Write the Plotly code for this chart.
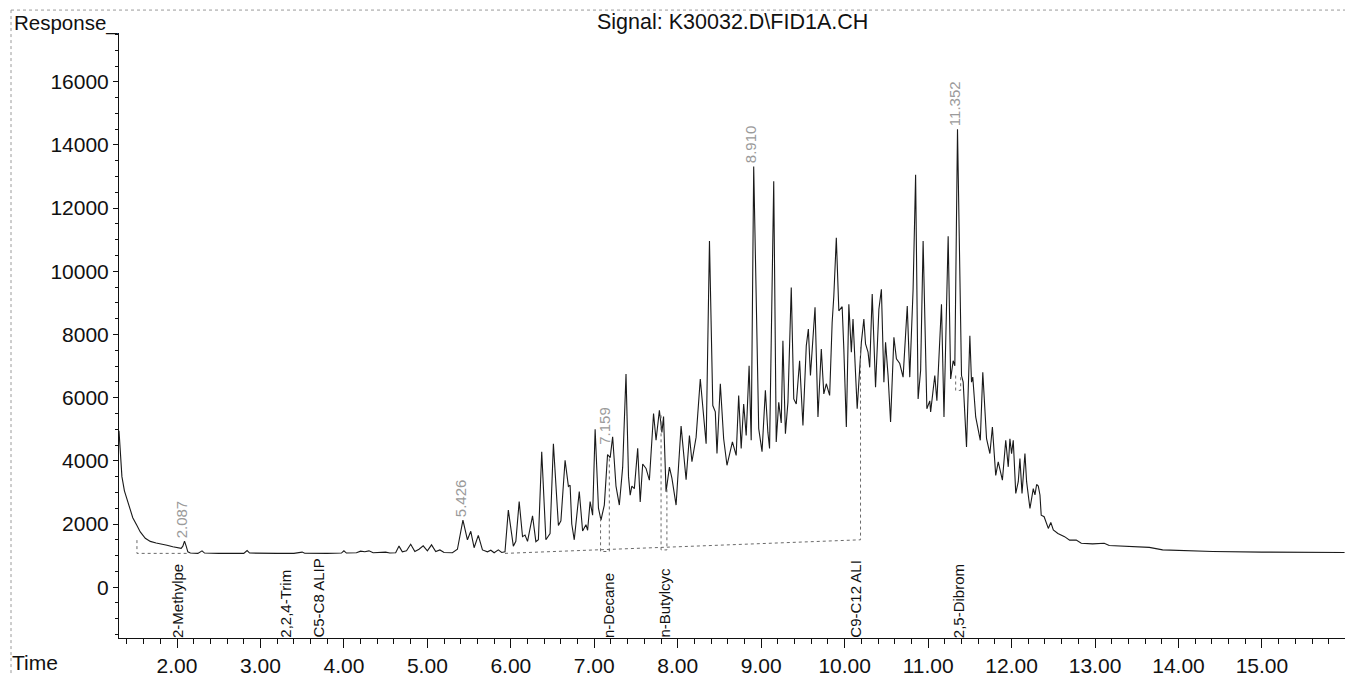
import plotly.graph_objects as go

# ---- signal trace (time in min, response) ----
time_min = [1.305, 1.32, 1.34, 1.37, 1.40, 1.44, 1.47, 1.52, 1.56, 1.62, 1.68, 1.75, 1.80, 1.88, 1.95, 2.00,
            2.03, 2.05, 2.07, 2.09, 2.11, 2.13, 2.16, 2.25, 2.30, 2.33, 2.50, 2.80, 2.84, 2.87, 3.20, 3.40,
            3.50, 3.53, 3.80, 3.97, 4.00, 4.03, 4.15, 4.20, 4.25, 4.30, 4.35, 4.45, 4.50, 4.55, 4.62, 4.66,
            4.70, 4.75, 4.80, 4.85, 4.90, 4.95, 5.00, 5.05, 5.10, 5.15, 5.20, 5.30, 5.36, 5.426, 5.48, 5.52,
            5.56, 5.61, 5.66, 5.72, 5.76, 5.80, 5.85, 5.89, 5.93, 5.97, 6.03, 6.06, 6.10, 6.14, 6.17, 6.20,
            6.26, 6.30, 6.33, 6.37, 6.42, 6.47, 6.51, 6.57, 6.60, 6.65, 6.69, 6.71, 6.73, 6.76, 6.82, 6.86,
            6.90, 6.92, 6.95, 6.98, 7.01, 7.05, 7.08, 7.12, 7.159, 7.19, 7.22, 7.26, 7.30, 7.34, 7.38, 7.41,
            7.43, 7.45, 7.48, 7.52, 7.55, 7.58, 7.62, 7.66, 7.71, 7.74, 7.78, 7.81, 7.83, 7.86, 7.90, 7.93,
            7.98, 8.04, 8.10, 8.14, 8.17, 8.22, 8.27, 8.34, 8.38, 8.42, 8.45, 8.47, 8.51, 8.55, 8.59, 8.655,
            8.70, 8.73, 8.76, 8.79, 8.82, 8.855, 8.88, 8.91, 8.97, 9.01, 9.05, 9.08, 9.10, 9.15, 9.18, 9.21,
            9.24, 9.26, 9.29, 9.32, 9.36, 9.39, 9.42, 9.46, 9.50, 9.54, 9.565, 9.59, 9.645, 9.68, 9.72, 9.75,
            9.78, 9.82, 9.85, 9.87, 9.90, 9.93, 9.97, 9.99, 10.02, 10.05, 10.08, 10.10, 10.15, 10.20, 10.23,
            10.25, 10.28, 10.30, 10.33, 10.37, 10.41, 10.44, 10.47, 10.49, 10.52, 10.55, 10.59, 10.62, 10.66,
            10.70, 10.75, 10.78, 10.82, 10.85, 10.88, 10.91, 10.94, 10.985, 11.02, 11.03, 11.08, 11.105,
            11.16, 11.19, 11.24, 11.27, 11.30, 11.32, 11.352, 11.40, 11.42, 11.46, 11.50, 11.52, 11.535,
            11.57, 11.625, 11.655, 11.69, 11.70, 11.74, 11.77, 11.81, 11.84, 11.89, 11.93, 11.96, 11.98,
            12.00, 12.02, 12.05, 12.08, 12.10, 12.125, 12.16, 12.18, 12.22, 12.26, 12.28, 12.30, 12.32,
            12.34, 12.355, 12.39, 12.44, 12.47, 12.50, 12.555, 12.635, 12.695, 12.775, 12.835, 12.97,
            13.11, 13.17, 13.45, 13.65, 13.81, 14.41, 15.00, 15.99]
response = [4950, 4200, 3500, 3050, 2800, 2400, 2200, 1950, 1750, 1550, 1450, 1400, 1380, 1330, 1280, 1260,
            1250, 1230, 1300, 1460, 1300, 1120, 1080, 1070, 1150, 1080, 1070, 1070, 1160, 1080, 1070, 1070,
            1110, 1075, 1070, 1080, 1150, 1080, 1090, 1140, 1120, 1150, 1090, 1090, 1110, 1080, 1090, 1300,
            1120, 1150, 1360, 1130, 1200, 1310, 1150, 1340, 1130, 1180, 1100, 1090, 1200, 2120, 1500, 1770,
            1250, 1640, 1180, 1120, 1170, 1090, 1180, 1100, 1120, 2440, 1300, 1450, 2710, 1600, 1650, 1450,
            2260, 1440, 1500, 4290, 1500, 1700, 4540, 1950, 2100, 4020, 3190, 3230, 2000, 1500, 3030, 1780,
            1980, 1800, 2710, 2280, 5000, 2500, 2120, 2600, 4200, 4100, 4760, 3200, 2600, 3800, 6750, 3500,
            2910, 3200, 3120, 4400, 2700, 3900, 3760, 3390, 5500, 4650, 5600, 4900, 5400, 3020, 3800, 3450,
            2600, 5100, 3400, 4800, 3970, 4750, 6590, 4540, 10960, 5750, 5550, 4230, 6440, 4700, 3860, 4600,
            4170, 6070, 4390, 5800, 4800, 7010, 4650, 13320, 5020, 4290, 6230, 4900, 4390, 12850, 4600, 5850,
            5200, 7800, 4860, 5850, 9490, 5960, 5800, 7170, 5120, 7640, 8170, 6700, 8860, 5390, 7540, 6120,
            6440, 6070, 8380, 9220, 11060, 8750, 8880, 7540, 5070, 8960, 7440, 8490, 5650, 7750, 8490,
            7700, 7440, 6960, 9280, 6330, 8800, 9430, 6490, 7750, 6700, 5230, 7910, 7230, 7080,
            6650, 8900, 6650, 9430, 13060, 5960, 6860, 10960, 5650, 5900, 5550, 6700, 5900,
            8960, 5390, 11110, 6590, 7170, 7010, 14500, 6700, 6490, 4440, 7960, 6490, 6650,
            5390, 4650, 6800, 4800, 4700, 4230, 5070, 3540, 3970, 3390, 4650, 3810, 4700,
            4230, 4650, 2970, 3340, 4070, 2970, 4230, 3340, 2490, 3120, 2920, 3250, 3200,
            2920, 2280, 2230, 1860, 2050, 1810, 1700, 1600, 1490, 1490, 1390, 1370,
            1390, 1320, 1280, 1260, 1180, 1130, 1110, 1100]

# ---- integration baselines / boxes ----
base1_t = [1.52, 1.52, 2.15]
base1_r = [1490, 1070, 1070]
base2_t = [5.93, 10.19, 10.19]
base2_r = [1070, 1500, 7600]
box_decane_t = [7.075, 7.075, 7.18, 7.18]
box_decane_r = [2180, 1130, 1130, 4170]
box_butyl_t = [7.80, 7.80, 7.87, 7.87]
box_butyl_r = [5440, 1180, 1180, 3120]
box_dibrom_t = [11.33, 11.33, 11.39, 11.39]
box_dibrom_r = [6700, 6230, 6230, 6700]

# ---- peak retention-time labels ----
peak_labels = ["2.087", "5.426", "7.159", "8.910", "11.352"]
peak_times = [2.087, 5.426, 7.159, 8.910, 11.352]
peak_resp = [1460, 2120, 4400, 13320, 14500]

# ---- compound names along the axis ----
compound_names = ["2-Methylpe", "2,2,4-Trim", "C5-C8 ALIP", "n-Decane", "n-Butylcyc", "C9-C12 ALI", "2,5-Dibrom"]
compound_pos = [2.00, 3.29, 3.69, 7.17, 7.83, 10.12, 11.36]

FONT = "Liberation Sans, Arial, Helvetica, sans-serif"

fig = go.Figure()
fig.add_trace(go.Scatter(x=time_min, y=response, mode="lines",
                         line=dict(color="#1a1a1a", width=1.1), hoverinfo="skip", showlegend=False))
for bt, br in [(base1_t, base1_r), (base2_t, base2_r), (box_decane_t, box_decane_r),
               (box_butyl_t, box_butyl_r), (box_dibrom_t, box_dibrom_r)]:
    fig.add_trace(go.Scatter(x=bt, y=br, mode="lines",
                             line=dict(color="#6a6a6a", width=1, dash="dot"),
                             hoverinfo="skip", showlegend=False))

annotations = []
for lab, t, r in zip(peak_labels, peak_times, peak_resp):
    annotations.append(dict(x=t, y=r, xref="x", yref="y", text=lab, showarrow=False,
                            textangle=-90, xanchor="center", yanchor="bottom", xshift=-3, yshift=1,
                            font=dict(family=FONT, size=15, color="#9a9a9a")))
for name, t in zip(compound_names, compound_pos):
    annotations.append(dict(x=t, y=0, xref="x", yref="paper", text=name, showarrow=False,
                            textangle=-90, xanchor="center", yanchor="bottom", yshift=-2,
                            font=dict(family=FONT, size=15, color="#111111")))

W, H = 1345, 677
L, R, T, B = 119, 0, 33, 37
pw, ph = W - L - R, H - T - B


def px(xp):
    return (xp - L) / pw


def py(yp):
    return (H - B - yp) / ph


annotations += [
    dict(x=px(12), y=py(23), xref="paper", yref="paper", text="Response_", showarrow=False,
         xanchor="left", yanchor="middle", font=dict(family=FONT, size=20.5, color="#111")),
    dict(x=px(10), y=py(665), xref="paper", yref="paper", text="Time", showarrow=False,
         xanchor="left", yanchor="middle", font=dict(family=FONT, size=21, color="#111")),
    dict(x=px(733), y=py(22), xref="paper", yref="paper", text="Signal: K30032.D\\FID1A.CH",
         showarrow=False, xanchor="center", yanchor="middle",
         font=dict(family=FONT, size=21.5, color="#111")),
]

shapes = [
    dict(type="line", xref="paper", yref="paper", x0=px(11), x1=1.0, y0=py(10), y1=py(10),
         line=dict(color="#9a9a9a", width=1, dash="dot")),
    dict(type="line", xref="paper", yref="paper", x0=px(11), x1=px(11), y0=py(10), y1=py(677),
         line=dict(color="#9a9a9a", width=1, dash="dot")),
]

fig.update_layout(
    width=W, height=H,
    margin=dict(l=L, r=R, t=T, b=B, pad=0),
    paper_bgcolor="white", plot_bgcolor="white",
    font=dict(family=FONT, size=21, color="#111"),
    showlegend=False,
    hovermode=False,
    annotations=annotations,
    shapes=shapes,
    xaxis=dict(range=[1.305, 15.995], showgrid=False, zeroline=False, showline=True,
               linecolor="#111", linewidth=1, ticks="outside", ticklen=9, tickcolor="#111",
               tick0=0, dtick=1, tickformat=".2f", tickfont=dict(family=FONT, size=21, color="#111"),
               minor=dict(dtick=0.2, tick0=0, ticks="outside", ticklen=5, tickcolor="#111", showgrid=False)),
    yaxis=dict(range=[-1609, 17545], showgrid=False, zeroline=False, showline=True,
               linecolor="#111", linewidth=1, ticks="outside", ticklen=5, tickcolor="#111",
               tick0=0, dtick=2000, tickformat="d", tickfont=dict(family=FONT, size=21, color="#111"),
               minor=dict(dtick=500, tick0=0, ticks="outside", ticklen=3, tickcolor="#111", showgrid=False)),
)

fig.write_html("out.html",
               config={"displayModeBar": False, "staticPlot": True},
               post_script="document.body.style.margin='0';document.body.style.padding='0';"
                           "document.body.style.overflow='hidden';")
